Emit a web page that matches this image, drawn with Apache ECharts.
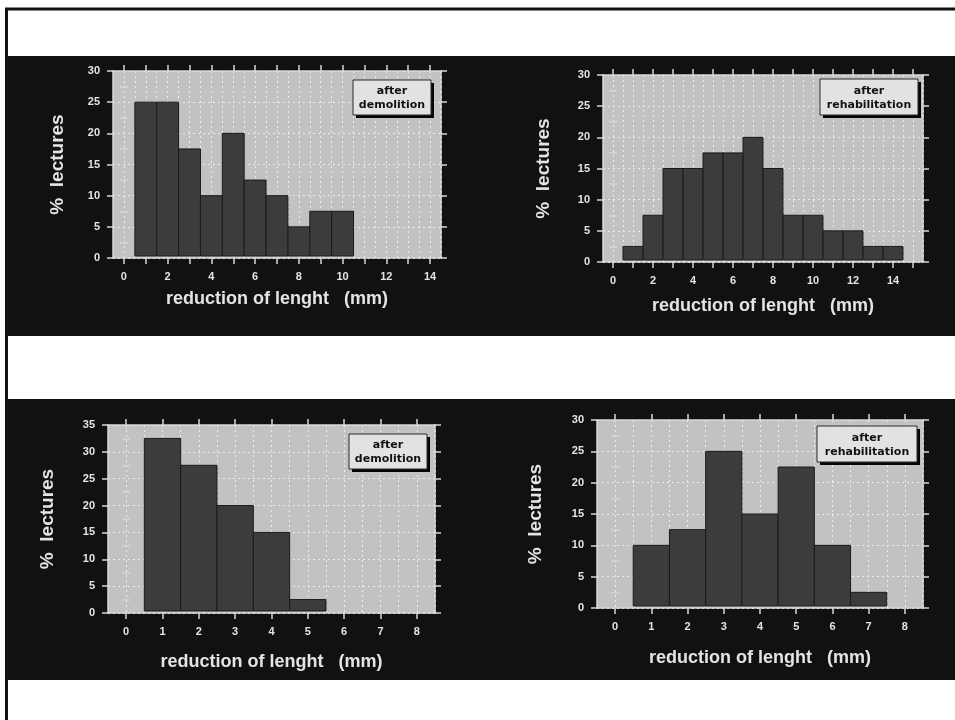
<!DOCTYPE html>
<html>
<head>
<meta charset="utf-8">
<script src="https://cdn.jsdelivr.net/npm/echarts@6/dist/echarts.min.js"></script>
<style>
  html, body { margin: 0; padding: 0; background: #fff; }
  #main { width: 955px; height: 720px; }
</style>
</head>
<body>
<div id="main"></div>
<script>
// bin centres (mm) and % of readings for each panel
const binsTop = [1, 2, 3, 4, 5, 6, 7, 8, 9, 10, 11, 12, 13, 14]
const demolitionTop = [25, 25, 17.5, 10, 20, 12.5, 10, 5, 7.5, 7.5]
const rehabTop = [2.5, 7.5, 15, 15, 17.5, 17.5, 20, 15, 7.5, 7.5, 5, 5, 2.5, 2.5]
const binsBottom = [1, 2, 3, 4, 5, 6, 7]
const demolitionBottom = [32.5, 27.5, 20, 15, 2.5]
const rehabBottom = [10, 12.5, 25, 15, 22.5, 10, 2.5]

// tick labels
const ticksWide = [0, 1, 2, 3, 4, 5, 6, 7, 8, 9, 10, 11, 12, 13, 14, 15]
const labelsWide = [0, 2, 4, 6, 8, 10, 12, 14]
const ticksNarrow = [0, 1, 2, 3, 4, 5, 6, 7, 8]
const labelsNarrow = [0, 1, 2, 3, 4, 5, 6, 7, 8]

const xName = 'reduction of lenght   (mm)'
const yName = '%  lectures'

const panels = [
  { grid: { left: 113, top: 71, width: 328, height: 187 }, xMax: 14.5, yMax: 30,
    ticks: ticksWide, labels: labelsWide, bins: binsTop, values: demolitionTop,
    note: 'after\ndemolition', box: [353, 80, 78, 35], xGap: 32, yGap: 46 },
  { grid: { left: 603, top: 75, width: 320, height: 187 }, xMax: 15.5, yMax: 30,
    ticks: ticksWide, labels: labelsWide, bins: binsTop, values: rehabTop,
    note: 'after\nrehabilitation', box: [820, 79, 98, 36], xGap: 35, yGap: 50 },
  { grid: { left: 108, top: 425, width: 327, height: 188 }, xMax: 8.5, yMax: 35,
    ticks: ticksNarrow, labels: labelsNarrow, bins: binsBottom, values: demolitionBottom,
    note: 'after\ndemolition', box: [349, 434, 78, 35], xGap: 40, yGap: 51 },
  { grid: { left: 597, top: 420, width: 326, height: 188 }, xMax: 8.5, yMax: 30,
    ticks: ticksNarrow, labels: labelsNarrow, bins: binsBottom, values: rehabBottom,
    note: 'after\nrehabilitation', box: [817, 426, 100, 36], xGap: 41, yGap: 52 },
]

const lightLine = { color: '#d6d6d6', width: 1.5 }
const labelStyle = { color: '#e4e4e4', fontWeight: 'bold', fontSize: 11, fontFamily: 'Liberation Sans' }
const nameStyle = { color: '#e4e4e4', fontWeight: 'bold', fontSize: 18, fontFamily: 'Liberation Sans' }
const dotted = { color: '#ececec', width: 1, type: [2, 3] }

function halfSteps (max) {
  const out = []
  for (let v = 2.5; v < max; v += 5) out.push(v)
  return out
}

function renderBin (params, api) {
  const x = api.value(0)
  const y = api.value(1)
  const p0 = api.coord([x - 0.5, y])
  const p1 = api.coord([x + 0.5, 0])
  return {
    type: 'rect',
    shape: { x: p0[0], y: p0[1], width: p1[0] - p0[0], height: p1[1] - p0[1] - 2 },
    style: { fill: '#3c3c3c', stroke: '#1a1a1a', lineWidth: 1 }
  }
}

const grids = []
const xAxes = []
const yAxes = []
const series = []
const graphics = [
  { type: 'rect', z: -5, shape: { x: 5, y: 56, width: 950, height: 280 }, style: { fill: '#111' } },
  { type: 'rect', z: -5, shape: { x: 5, y: 399, width: 950, height: 281 }, style: { fill: '#111' } },
  { type: 'line', z: -5, shape: { x1: 5, y1: 9, x2: 955, y2: 9 }, style: { stroke: '#111', lineWidth: 3 } },
  { type: 'line', z: -5, shape: { x1: 6.5, y1: 9, x2: 6.5, y2: 720 }, style: { stroke: '#111', lineWidth: 3 } },
]

panels.forEach((p, i) => {
  grids.push(Object.assign({ show: true, backgroundColor: '#c2c2c2', borderWidth: 0 }, p.grid))

  const xBase = { gridIndex: i, type: 'value', min: -0.5, max: p.xMax }
  // bottom axis with labels
  xAxes.push(Object.assign({}, xBase, {
    position: 'bottom',
    axisLine: { show: true, onZero: false, lineStyle: lightLine },
    axisTick: { show: true, customValues: p.ticks, length: 6, lineStyle: lightLine },
    axisLabel: { show: true, customValues: p.labels, margin: 13, ...labelStyle },
    splitLine: { show: false },
    name: xName, nameLocation: 'middle', nameGap: p.xGap, nameTextStyle: nameStyle,
  }))
  // top axis, ticks only
  xAxes.push(Object.assign({}, xBase, {
    position: 'top',
    axisLine: { show: true, onZero: false, lineStyle: lightLine },
    axisTick: { show: true, customValues: p.ticks, length: 6, lineStyle: lightLine },
    axisLabel: { show: false },
    splitLine: { show: false },
  }))
  // hidden axis for the half-unit vertical grid lines
  xAxes.push(Object.assign({}, xBase, {
    position: 'bottom', interval: 0.5,
    axisLine: { show: false }, axisTick: { show: false }, axisLabel: { show: false },
    splitLine: { show: true, lineStyle: dotted },
  }))

  const yBase = { gridIndex: i, type: 'value', min: 0, max: p.yMax }
  yAxes.push(Object.assign({}, yBase, {
    position: 'left', interval: 5,
    axisLine: { show: true, onZero: false, lineStyle: lightLine },
    axisTick: { show: true, length: 6, lineStyle: lightLine },
    axisLabel: { show: true, margin: 13, ...labelStyle },
    splitLine: { show: true, lineStyle: dotted },
    name: yName, nameLocation: 'middle', nameGap: p.yGap,
    nameTextStyle: Object.assign({}, nameStyle, { fontSize: 19 }),
  }))
  yAxes.push(Object.assign({}, yBase, {
    position: 'left',
    axisLine: { show: false },
    axisTick: { show: true, inside: true, length: 4, customValues: halfSteps(p.yMax), lineStyle: lightLine },
    axisLabel: { show: false }, splitLine: { show: false },
  }))
  yAxes.push(Object.assign({}, yBase, {
    position: 'right', interval: 5,
    axisLine: { show: true, onZero: false, lineStyle: lightLine },
    axisTick: { show: true, length: 6, lineStyle: lightLine },
    axisLabel: { show: false }, splitLine: { show: false },
  }))
  yAxes.push(Object.assign({}, yBase, {
    position: 'right',
    axisLine: { show: false },
    axisTick: { show: true, inside: true, length: 4, customValues: halfSteps(p.yMax), lineStyle: lightLine },
    axisLabel: { show: false }, splitLine: { show: false },
  }))

  series.push({
    type: 'custom',
    xAxisIndex: i * 3,
    yAxisIndex: i * 4,
    renderItem: renderBin,
    data: p.values.map((v, k) => [p.bins[k], v]),
    z: 3,
  })

  const [bx, by, bw, bh] = p.box
  graphics.push({ type: 'rect', z: 100, shape: { x: bx + 3, y: by + 3, width: bw, height: bh }, style: { fill: '#050505' } })
  graphics.push({ type: 'rect', z: 101, shape: { x: bx, y: by, width: bw, height: bh }, style: { fill: '#e2e2e2', stroke: '#2a2a2a', lineWidth: 1 } })
  graphics.push({
    type: 'text', z: 102,
    style: {
      text: p.note, x: bx + bw / 2, y: by + bh / 2 + 1,
      align: 'center', verticalAlign: 'middle',
      font: 'bold 11px "DejaVu Sans"', fill: '#111', lineHeight: 14,
    }
  })
})

const chart = echarts.init(document.getElementById('main'), null, { renderer: 'canvas' })
chart.setOption({
  backgroundColor: '#fff',
  animation: false,
  grid: grids,
  xAxis: xAxes,
  yAxis: yAxes,
  series,
  graphic: graphics,
})
</script>
</body>
</html>
